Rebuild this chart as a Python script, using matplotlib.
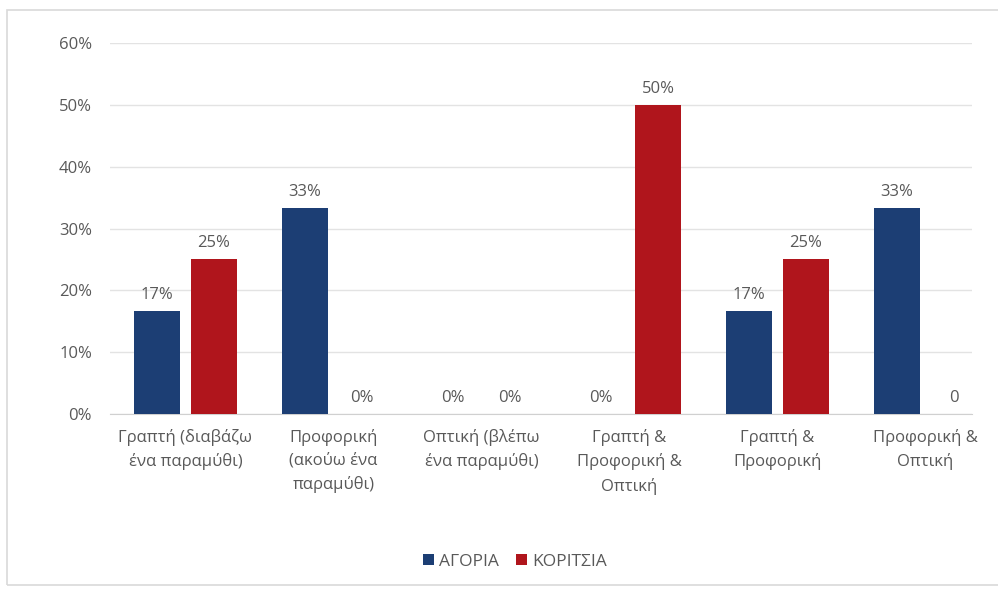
import numpy as np
import matplotlib.pyplot as plt
from matplotlib.patches import Rectangle

plt.rcParams['font.family'] = ['Open Sans', 'DejaVu Sans']

categories = ['Γραπτή (διαβάζω\nένα παραμύθι)', 'Προφορική\n(ακούω ένα\nπαραμύθι)',
              'Οπτική (βλέπω\nένα παραμύθι)', 'Γραπτή &\nΠροφορική &\nΟπτική',
              'Γραπτή &\nΠροφορική', 'Προφορική &\nΟπτική']
boys = [1/6, 1/3, 0, 0, 1/6, 1/3]
girls = [1/4, 0, 0, 1/2, 1/4, 0]
boys_labels = ['17%', '33%', '0%', '0%', '17%', '33%']
girls_labels = ['25%', '0%', '0%', '50%', '25%', '0']
yticks = [0, 0.1, 0.2, 0.3, 0.4, 0.5, 0.6]

blue = '#1c3e74'
red = '#b0151c'
txt = '#595959'

fig = plt.figure(figsize=(9.98, 5.89), dpi=100)
# light frame round the chart area
fig.patches.append(Rectangle((7/998, 4/589), 1.0, 575/589, transform=fig.transFigure,
                             fill=False, edgecolor='#d9d9d9', linewidth=1.2))

ax = fig.add_axes([110/998, 175/589, 862/998, 371/589])
x = np.arange(len(categories))
w = 0.311
off = 0.1926
b1 = ax.bar(x - off, boys, w, color=blue, label='ΑΓΟΡΙΑ', zorder=3)
b2 = ax.bar(x + off, girls, w, color=red, label='ΚΟΡΙΤΣΙΑ', zorder=3)
ax.bar_label(b1, labels=boys_labels, padding=6, fontsize=12, color=txt)
ax.bar_label(b2, labels=girls_labels, padding=6, fontsize=12, color=txt)

ax.set_xlim(-0.51, 5.314)
ax.set_ylim(0, 0.6)
ax.set_yticks(yticks)
ax.set_yticklabels([f'{int(round(t*100))}%' for t in yticks])
ax.set_xticks(x)
ax.set_xticklabels(categories, linespacing=1.55)
ax.tick_params(axis='both', length=0, labelsize=12, colors=txt)
ax.tick_params(axis='y', pad=13)
ax.tick_params(axis='x', pad=11)
ax.grid(axis='y', color='#e3e3e3', linewidth=1, zorder=0)
for s in ['top', 'right', 'left']:
    ax.spines[s].set_visible(False)
ax.spines['bottom'].set_color('#d0d0d0')

fig.legend(loc='center', bbox_to_anchor=(515/998, 1 - 562/589), ncol=2, frameon=False,
           fontsize=12.5, labelcolor=txt, handlelength=0.6, handleheight=0.6,
           handletextpad=0.3, columnspacing=1.0)

plt.savefig('out.png', dpi=100)
